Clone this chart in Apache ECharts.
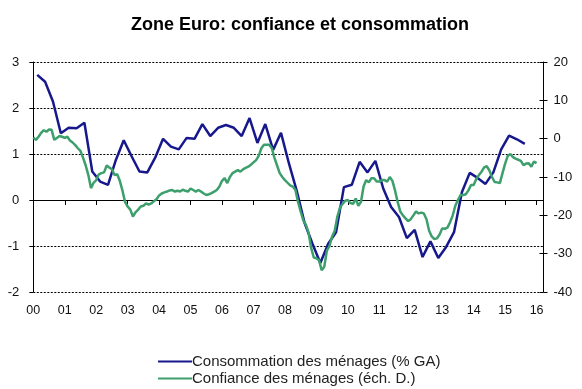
<!DOCTYPE html>
<html>
<head>
<meta charset="utf-8">
<script src="https://cdn.jsdelivr.net/npm/echarts@6/dist/echarts.min.js"></script>
<style>html,body{margin:0;padding:0;background:#fff}#c{width:582px;height:389px}</style>
</head>
<body>
<div id="c"></div>
<script>
// Consommation des ménages (% GA), quarterly, Q1 2000 .. Q3 2015 (left axis)
const consumption = [2.72,2.57,2.14,1.45,1.57,1.56,1.68,0.62,0.40,0.33,
  0.87,1.30,0.95,0.62,0.60,0.92,1.33,1.16,1.10,1.35,
  1.33,1.65,1.39,1.57,1.63,1.57,1.39,1.78,1.24,1.65,
  1.09,1.46,0.80,0.20,-0.50,-0.95,-1.37,-0.95,-0.70,0.28,
  0.33,0.83,0.60,0.85,0.25,-0.15,-0.37,-0.83,-0.65,-1.24,
  -0.90,-1.26,-1.02,-0.70,0.17,0.59,0.48,0.35,0.60,1.10,
  1.40,1.32,1.22];
// Confiance des ménages (éch. D.), monthly, Jan 2000 .. Jan 2016 (right axis)
const confidence = [
  0.3,-0.3,0.5,1.5,2.2,1.8,2.4,2.3,-0.3,0.2,0.7,0.5,            // 2000
  0.2,0.5,-0.5,-1.0,-1.7,-2.5,-3.2,-5.0,-7.0,-9.5,-12.9,-11.5,   // 2001
  -10.8,-9.3,-9.0,-8.8,-7.0,-7.5,-8.0,-9.5,-9.3,-11.0,-13.5,-16.5, // 2002
  -17.7,-18.5,-20.3,-19.2,-18.5,-17.7,-17.5,-16.9,-17.2,-16.9,-16.3,-15.8, // 2003
  -14.8,-14.3,-14.0,-13.8,-13.5,-13.4,-13.8,-13.6,-13.8,-13.3,-13.6,-13.8, // 2004
  -13.0,-13.4,-13.8,-13.4,-13.8,-14.3,-14.7,-14.5,-14.2,-13.8,-13.4,-12.5, // 2005
  -11.0,-10.3,-11.6,-10.0,-9.0,-8.6,-8.2,-8.6,-8.0,-7.6,-7.3,-6.8,  // 2006
  -6.2,-5.6,-4.5,-2.5,-1.6,-1.6,-1.6,-2.5,-5.0,-7.0,-9.0,-10.0,    // 2007
  -10.8,-11.5,-12.2,-12.5,-13.4,-16.5,-19.0,-21.3,-22.5,-24.5,-28.5,-31.0, // 2008
  -31.2,-31.7,-34.3,-33.4,-29.2,-28.0,-25.5,-24.0,-20.3,-18.0,-17.0,-16.2, // 2009
  -16.0,-16.8,-17.0,-15.6,-17.5,-16.5,-12.5,-10.8,-11.4,-10.3,-10.3,-11.2, // 2010
  -11.2,-10.8,-10.8,-11.2,-10.0,-11.0,-13.5,-16.5,-19.0,-20.0,-20.8,-21.5, // 2011
  -21.0,-20.0,-19.0,-19.5,-19.3,-19.5,-21.0,-24.0,-25.5,-26.2,-26.0,-25.0, // 2012
  -23.4,-23.5,-23.2,-21.8,-20.0,-17.5,-16.0,-14.7,-14.7,-14.5,-13.5,-12.1, // 2013
  -12.1,-10.5,-9.5,-8.6,-7.5,-7.2,-8.3,-10.0,-11.3,-11.4,-11.6,-9.0,   // 2014
  -6.5,-4.5,-4.0,-4.8,-5.2,-5.5,-5.8,-6.9,-6.5,-6.4,-7.3,-6.0,        // 2015
  -6.4                                                              // 2016
];
const startYear = 2000;
const endYear = 2016;
const leftTicks = {min: -2, max: 3, interval: 1};
const rightTicks = {min: -40, max: 20, interval: 10};
const titleText = 'Zone Euro: confiance et consommation';
const seriesNames = ['Consommation des ménages (% GA)', 'Confiance des ménages (éch. D.)'];

const consData = consumption.map((v, i) => [startYear + (i + 0.5) / 4, v]);
const confData = confidence.map((v, i) => [startYear + i / 12, v]);

const FONT = "'Liberation Sans', Arial, sans-serif";
const chart = echarts.init(document.getElementById('c'), null, {renderer: 'canvas'});
const xMax = endYear + 0.22;
const yearLabel = v => Math.abs(v - Math.round(v)) < 1e-6 ? String(Math.round(v) % 100).padStart(2, '0') : '';

const legendBase = {
  orient: 'horizontal', left: 153, itemWidth: 34, itemHeight: 14,
  icon: 'path://M0,6L34,6L34,8L0,8Z',
  textStyle: {fontFamily: FONT, fontSize: 15, color: '#222', padding: [0, 0, 0, -5]}
};

chart.setOption({
  animation: false,
  backgroundColor: '#fff',
  title: {
    text: titleText, left: 126, top: 11,
    textStyle: {fontFamily: FONT, fontSize: 18, fontWeight: 'bold', color: '#000'}
  },
  legend: [
    Object.assign({}, legendBase, {top: 349, data: [seriesNames[0]]}),
    Object.assign({}, legendBase, {top: 366, data: [seriesNames[1]]})
  ],
  grid: {left: 33.3, right: 38.5, top: 62, bottom: 97},
  xAxis: [
    {
      type: 'value', min: startYear, max: xMax, interval: 1, position: 'bottom',
      axisLine: {show: false, onZero: false}, axisTick: {show: false}, splitLine: {show: false},
      axisLabel: {formatter: yearLabel, fontFamily: FONT, fontSize: 12.5, color: '#111', margin: 12, showMaxLabel: false}
    },
    {
      type: 'value', min: startYear, max: xMax, interval: 1, position: 'bottom',
      axisLine: {show: true, onZero: true, onZeroAxisIndex: 0, lineStyle: {color: '#000', width: 1}},
      axisTick: {show: true, inside: false, length: 5, lineStyle: {color: '#000'}},
      axisLabel: {show: false}, splitLine: {show: false}
    }
  ],
  yAxis: [
    {
      type: 'value', position: 'left', min: leftTicks.min, max: leftTicks.max, interval: leftTicks.interval,
      axisLine: {show: true, onZero: false, lineStyle: {color: '#000', width: 1}},
      axisTick: {show: true, length: 4, lineStyle: {color: '#000'}},
      axisLabel: {fontFamily: FONT, fontSize: 13, color: '#111', margin: 14},
      splitLine: {show: true, lineStyle: {color: '#000', width: 1, type: [2, 1.5]}}
    },
    {
      type: 'value', position: 'right', min: rightTicks.min, max: rightTicks.max, interval: rightTicks.interval,
      axisLine: {show: true, onZero: false, lineStyle: {color: '#000', width: 1}},
      axisTick: {show: true, length: 4, lineStyle: {color: '#000'}},
      axisLabel: {fontFamily: FONT, fontSize: 13, color: '#111', margin: 10},
      splitLine: {show: false}
    },
    {
      type: 'value', position: 'right', min: rightTicks.min, max: rightTicks.max, interval: rightTicks.interval,
      axisLine: {show: false, onZero: false},
      axisTick: {show: true, inside: true, length: 4, lineStyle: {color: '#000'}},
      axisLabel: {show: false}, splitLine: {show: false}
    }
  ],
  series: [
    {
      name: seriesNames[0], type: 'line', xAxisIndex: 0, yAxisIndex: 0, data: consData,
      symbol: 'none', smooth: false,
      lineStyle: {color: '#17188c', width: 2.5}, itemStyle: {color: '#17188c'}
    },
    {
      name: seriesNames[1], type: 'line', xAxisIndex: 0, yAxisIndex: 1, data: confData,
      symbol: 'none', smooth: false,
      lineStyle: {color: '#3c9f6c', width: 2.5}, itemStyle: {color: '#3c9f6c'}
    }
  ]
});
</script>
</body>
</html>
